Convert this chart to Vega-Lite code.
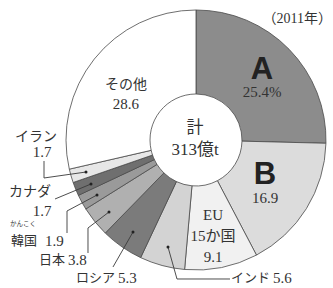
{
  "$schema": "https://vega.github.io/schema/vega-lite/v6.json",
  "width": 333,
  "height": 288,
  "autosize": {"type": "fit", "contains": "padding"},
  "padding": 0,
  "background": "white",
  "config": {"view": {"stroke": null}},
  "datasets": {
    "shares": [
      {"name": "A", "share": 25.4, "rank": 1},
      {"name": "B", "share": 16.9, "rank": 2},
      {"name": "EU15か国", "share": 9.1, "rank": 3},
      {"name": "インド", "share": 5.6, "rank": 4},
      {"name": "ロシア", "share": 5.3, "rank": 5},
      {"name": "日本", "share": 3.8, "rank": 6},
      {"name": "韓国", "share": 1.9, "rank": 7},
      {"name": "カナダ", "share": 1.7, "rank": 8},
      {"name": "イラン", "share": 1.7, "rank": 9},
      {"name": "その他", "share": 28.6, "rank": 10}
    ],
    "labels": [
      {"t": "A", "x": 0.5077, "y": 0.5385, "g": "big"},
      {"t": "B", "x": 0.5308, "y": -0.2692, "g": "big"},
      {"t": "25.4%", "x": 0.5077, "y": 0.3692, "g": "main"},
      {"t": "16.9", "x": 0.5308, "y": -0.4462, "g": "main"},
      {"t": "EU", "x": 0.1308, "y": -0.5769, "g": "main"},
      {"t": "15か国", "x": 0.1308, "y": -0.7385, "g": "main"},
      {"t": "9.1", "x": 0.1308, "y": -0.9, "g": "main"},
      {"t": "その他", "x": -0.5385, "y": 0.4231, "g": "jp"},
      {"t": "28.6", "x": -0.5385, "y": 0.2769, "g": "main"},
      {"t": "計", "x": -0.0077, "y": 0.0923, "g": "center"},
      {"t": "313億t", "x": -0.0077, "y": -0.0769, "g": "center"},
      {"t": "イラン", "x": -1.2308, "y": 0.0231, "g": "jp"},
      {"t": "1.7", "x": -1.1846, "y": -0.0923, "g": "main"},
      {"t": "カナダ", "x": -1.2769, "y": -0.4, "g": "jp"},
      {"t": "1.7", "x": -1.1846, "y": -0.5462, "g": "main"},
      {"t": "かんこく", "x": -1.3308, "y": -0.6462, "g": "ruby"},
      {"t": "韓国", "x": -1.2231, "y": -0.7769, "g": "jpR"},
      {"t": "1.9", "x": -1.1615, "y": -0.7769, "g": "numL"},
      {"t": "日本", "x": -1.0077, "y": -0.9231, "g": "jpR"},
      {"t": "3.8", "x": -0.9846, "y": -0.9231, "g": "numL"},
      {"t": "ロシア", "x": -0.6231, "y": -1.0615, "g": "jpR"},
      {"t": "5.3", "x": -0.6, "y": -1.0615, "g": "numL"},
      {"t": "インド", "x": 0.5692, "y": -1.0615, "g": "jpR"},
      {"t": "5.6", "x": 0.5923, "y": -1.0615, "g": "numL"},
      {"t": "（2011年）", "x": 1.0462, "y": 0.9308, "g": "year"}
    ],
    "leaders": [
      {"id": "イラン", "seq": 1, "x": -1.1692, "y": -0.1615, "end": false},
      {"id": "イラン", "seq": 2, "x": -1.1692, "y": -0.2923, "end": false},
      {"id": "イラン", "seq": 3, "x": -0.8462, "y": -0.2462, "end": true},
      {"id": "カナダ", "seq": 1, "x": -1.0846, "y": -0.4538, "end": false},
      {"id": "カナダ", "seq": 2, "x": -0.8077, "y": -0.3385, "end": true},
      {"id": "韓国", "seq": 1, "x": -0.9923, "y": -0.7154, "end": false},
      {"id": "韓国", "seq": 2, "x": -0.9923, "y": -0.5462, "end": false},
      {"id": "韓国", "seq": 3, "x": -0.7615, "y": -0.4231, "end": true},
      {"id": "日本", "seq": 1, "x": -0.8308, "y": -0.8692, "end": false},
      {"id": "日本", "seq": 2, "x": -0.8308, "y": -0.6769, "end": false},
      {"id": "日本", "seq": 3, "x": -0.6692, "y": -0.5538, "end": true},
      {"id": "ロシア", "seq": 1, "x": -0.6385, "y": -0.9769, "end": false},
      {"id": "ロシア", "seq": 2, "x": -0.4846, "y": -0.7077, "end": true},
      {"id": "インド", "seq": 1, "x": -0.2154, "y": -0.8231, "end": true},
      {"id": "インド", "seq": 2, "x": -0.1462, "y": -1.0692, "end": false},
      {"id": "インド", "seq": 3, "x": 0.2615, "y": -1.0692, "end": false}
    ]
  },
  "layer": [
    {
      "data": {"name": "shares"},
      "mark": {"type": "arc", "radius": 130, "radius2": 46, "stroke": "#4a4a4a", "strokeWidth": 0.8},
      "encoding": {
        "x": {"datum": 0, "type": "quantitative", "scale": {"domain": [-1.50769, 1.05385], "nice": false, "zero": false}, "axis": null},
        "y": {"datum": 0, "type": "quantitative", "scale": {"domain": [-1.13846, 1.07692], "nice": false, "zero": false}, "axis": null},
        "theta": {"field": "share", "type": "quantitative", "stack": true},
        "order": {"field": "rank", "type": "quantitative"},
        "color": {
          "field": "name",
          "type": "nominal",
          "scale": {
            "domain": ["A", "B", "EU15か国", "インド", "ロシア", "日本", "韓国", "カナダ", "イラン", "その他"],
            "range": ["#8c8c8c", "#dcdcdc", "#f1f1f1", "#d3d3d3", "#7b7b7b", "#b0b0b0", "#9a9a9a", "#6f6f6f", "#e7e7e7", "#ffffff"]
          },
          "legend": null
        }
      }
    },
    {
      "data": {"name": "leaders"},
      "mark": {"type": "line", "stroke": "#3a3a3a", "strokeWidth": 0.9},
      "encoding": {
        "x": {"field": "x", "type": "quantitative"},
        "y": {"field": "y", "type": "quantitative"},
        "detail": {"field": "id"},
        "order": {"field": "seq", "type": "quantitative"}
      }
    },
    {
      "data": {"name": "leaders"},
      "transform": [{"filter": "datum.end"}],
      "mark": {"type": "point", "filled": true, "size": 9, "color": "#222222", "opacity": 1},
      "encoding": {
        "x": {"field": "x", "type": "quantitative"},
        "y": {"field": "y", "type": "quantitative"}
      }
    },
    {
      "data": {"name": "labels"},
      "transform": [{"filter": "datum.g === 'big'"}],
      "mark": {"type": "text", "font": "Liberation Sans", "fontWeight": "bold", "fontSize": 31, "color": "#222222", "align": "center", "baseline": "middle"},
      "encoding": {
        "x": {"field": "x", "type": "quantitative"},
        "y": {"field": "y", "type": "quantitative"},
        "text": {"field": "t"}
      }
    },
    {
      "data": {"name": "labels"},
      "transform": [{"filter": "datum.g === 'main'"}],
      "mark": {"type": "text", "font": "Liberation Serif, Noto Sans CJK JP, serif", "fontSize": 15, "color": "#333333", "align": "center", "baseline": "middle"},
      "encoding": {
        "x": {"field": "x", "type": "quantitative"},
        "y": {"field": "y", "type": "quantitative"},
        "text": {"field": "t"}
      }
    },
    {
      "data": {"name": "labels"},
      "transform": [{"filter": "datum.g === 'jp'"}],
      "mark": {"type": "text", "font": "Noto Sans CJK JP", "fontSize": 14, "color": "#333333", "align": "center", "baseline": "middle"},
      "encoding": {
        "x": {"field": "x", "type": "quantitative"},
        "y": {"field": "y", "type": "quantitative"},
        "text": {"field": "t"}
      }
    },
    {
      "data": {"name": "labels"},
      "transform": [{"filter": "datum.g === 'jpR'"}],
      "mark": {"type": "text", "font": "Noto Sans CJK JP", "fontSize": 13, "color": "#333333", "align": "right", "baseline": "middle"},
      "encoding": {
        "x": {"field": "x", "type": "quantitative"},
        "y": {"field": "y", "type": "quantitative"},
        "text": {"field": "t"}
      }
    },
    {
      "data": {"name": "labels"},
      "transform": [{"filter": "datum.g === 'numL'"}],
      "mark": {"type": "text", "font": "Liberation Serif, serif", "fontSize": 15, "color": "#333333", "align": "left", "baseline": "middle"},
      "encoding": {
        "x": {"field": "x", "type": "quantitative"},
        "y": {"field": "y", "type": "quantitative"},
        "text": {"field": "t"}
      }
    },
    {
      "data": {"name": "labels"},
      "transform": [{"filter": "datum.g === 'center'"}],
      "mark": {"type": "text", "font": "Liberation Serif, Noto Sans CJK JP, serif", "fontSize": 17, "color": "#333333", "align": "center", "baseline": "middle"},
      "encoding": {
        "x": {"field": "x", "type": "quantitative"},
        "y": {"field": "y", "type": "quantitative"},
        "text": {"field": "t"}
      }
    },
    {
      "data": {"name": "labels"},
      "transform": [{"filter": "datum.g === 'ruby'"}],
      "mark": {"type": "text", "font": "Noto Sans CJK JP", "fontSize": 6.5, "color": "#333333", "align": "center", "baseline": "middle"},
      "encoding": {
        "x": {"field": "x", "type": "quantitative"},
        "y": {"field": "y", "type": "quantitative"},
        "text": {"field": "t"}
      }
    },
    {
      "data": {"name": "labels"},
      "transform": [{"filter": "datum.g === 'year'"}],
      "mark": {"type": "text", "font": "Liberation Serif, Noto Sans CJK JP, serif", "fontSize": 14, "color": "#333333", "align": "right", "baseline": "middle"},
      "encoding": {
        "x": {"field": "x", "type": "quantitative"},
        "y": {"field": "y", "type": "quantitative"},
        "text": {"field": "t"}
      }
    }
  ]
}
